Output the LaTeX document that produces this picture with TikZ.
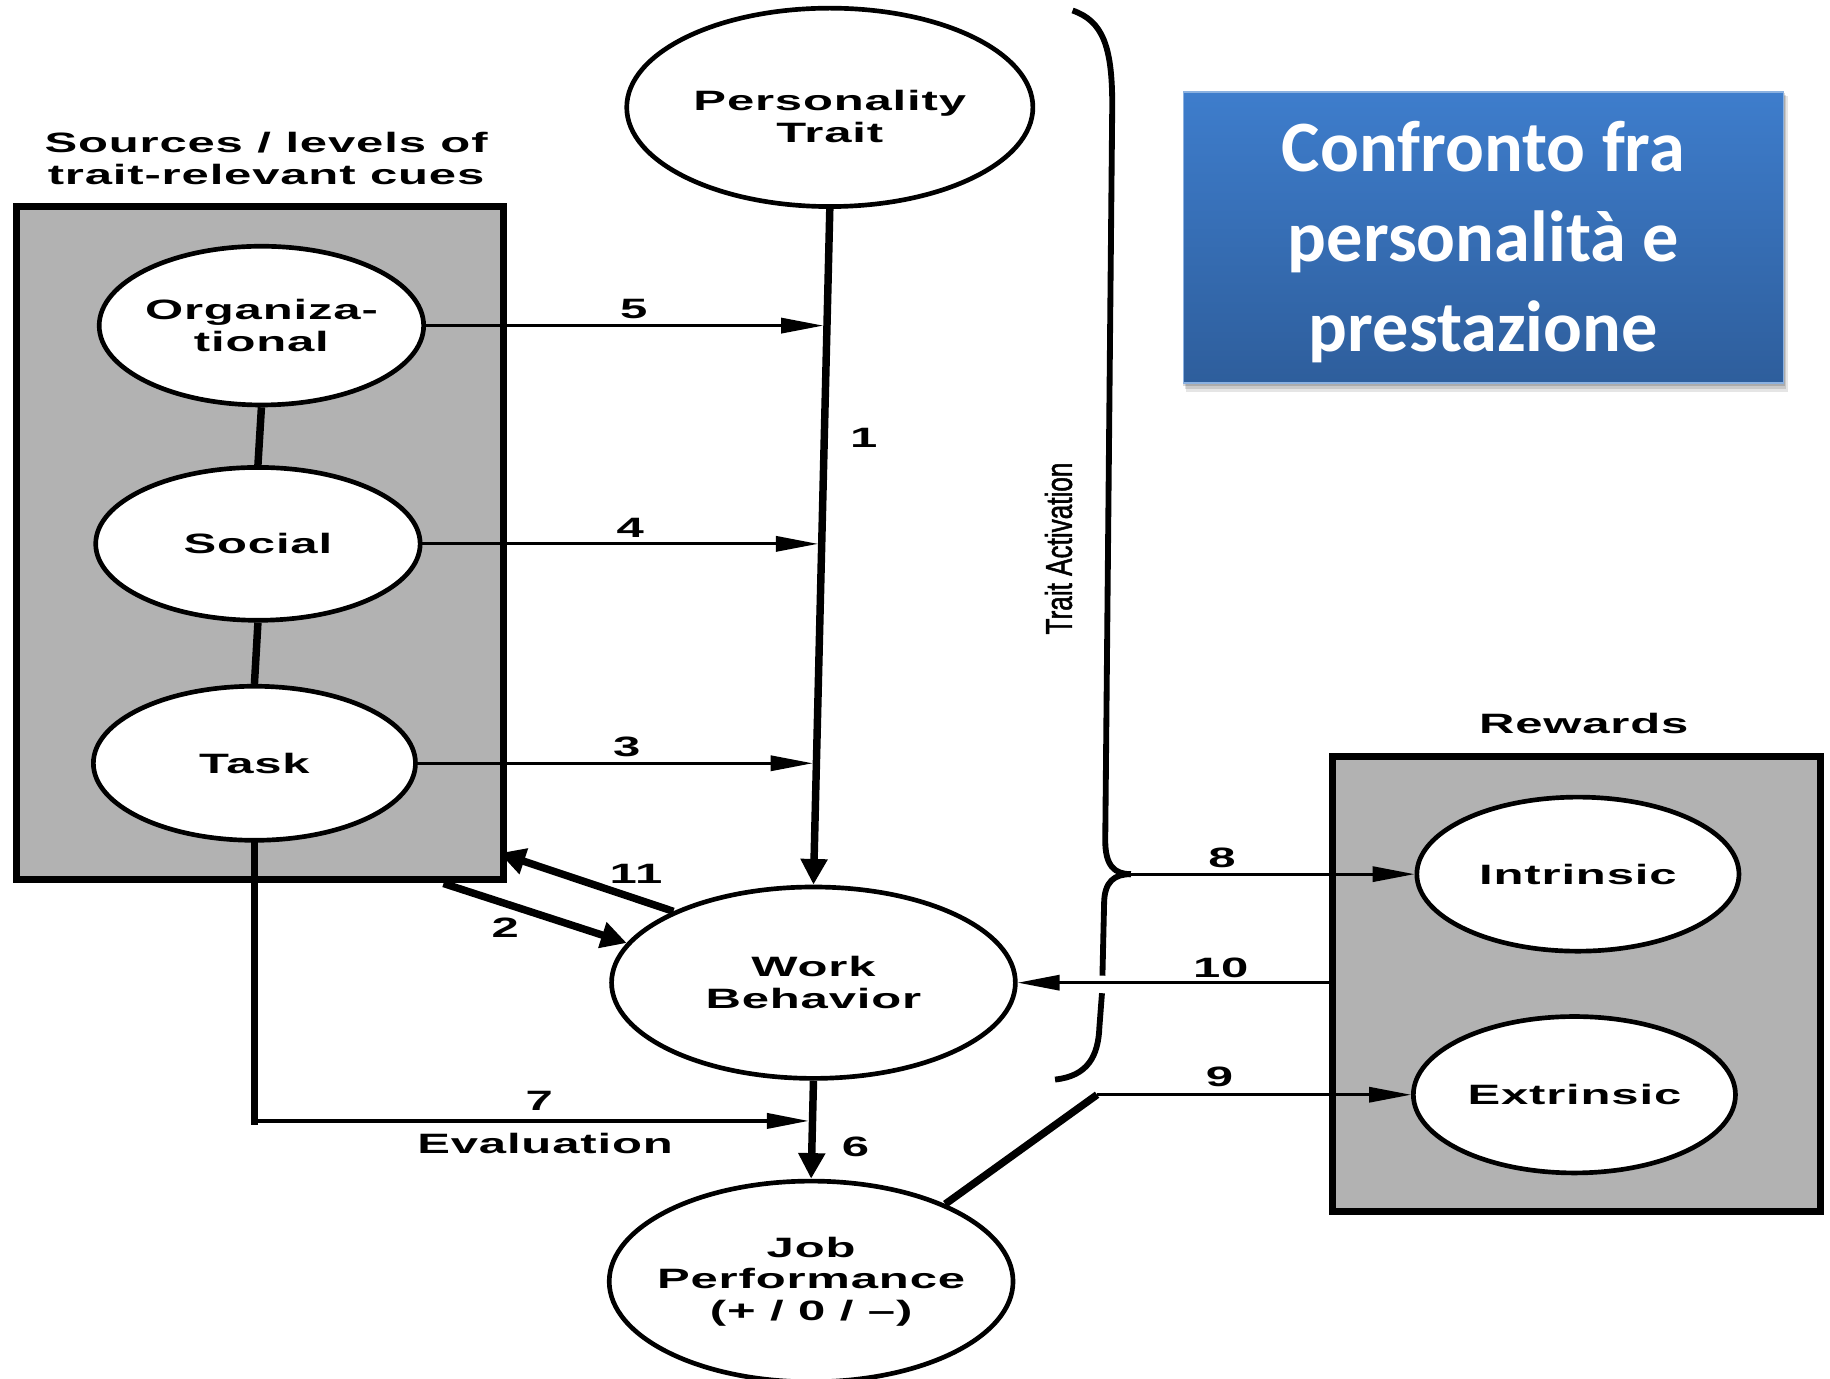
\documentclass[tikz,border=0pt]{standalone}
\usepackage{fontspec}
\usetikzlibrary{arrows.meta,calc,shapes.geometric}
\newfontfamily\diagfont[FakeStretch=1.75,LetterSpace=3]{Liberation Sans Bold}
\newfontfamily\narrowfont[FakeStretch=0.7,FakeBold=1.2]{Liberation Sans}
\newfontfamily\titlefont{Carlito Bold}
\definecolor{boxgray}{RGB}{178,178,178}
\definecolor{titletop}{RGB}{62,125,204}
\definecolor{titlebot}{RGB}{46,94,156}
\begin{document}
\begin{tikzpicture}[x=0.5pt,y=-0.5pt,
  every node/.style={font=\diagfont\fontsize{12}{13.5}\selectfont},
  oval/.style={ellipse,draw,fill=white,line width=2pt,inner sep=0pt},
  panel/.style={rectangle,draw,fill=boxgray,line width=3pt,inner sep=0pt},
  thinarrow/.style={line width=1.2pt,-{Triangle[length=18pt,width=6.5pt]}},
  thickarrow/.style={line width=3.2pt,-{Triangle[length=11pt,width=11pt]}},
  thickline/.style={line width=3.2pt},
  bracestyle/.style={line width=2.5pt},
  lbl/.style={inner sep=0pt,align=center},
  titletext/.style={anchor=base,inner sep=0pt,text=white,font=\titlefont\fontsize{31}{38.5}\selectfont},
]
\useasboundingbox (0,0) rectangle (1568,1181);

% panels
\node[panel,minimum width=208.5pt,minimum height=288.5pt] (LB) at (222.5,465.5) {};
\node[panel,minimum width=209pt,minimum height=195pt] (RB) at (1351,843) {};
\node[lbl] (srcT) at (228,136) {Sources / levels of\\trait-relevant cues};
\node[lbl] (rewT) at (1357,620) {Rewards};

% ovals
\node[oval,minimum width=139pt,minimum height=68pt] (O) at (224,279) {};
\node[lbl] (Ot) at (O) {Organiza-\\tional};
\node[oval,minimum width=139pt,minimum height=65.5pt] (S) at (221,466) {};
\node[lbl] (St) at (S) {Social};
\node[oval,minimum width=138pt,minimum height=66pt] (T) at (218,654) {};
\node[lbl] (Tt) at (T) {Task};
\node[oval,minimum width=174pt,minimum height=85pt] (PT) at (711,92) {};
\node[lbl] (PTt) at (711,100) {Personality\\Trait};
\node[oval,minimum width=173pt,minimum height=82pt] (WB) at (697,842) {};
\node[lbl] (WBt) at (WB) {Work\\Behavior};
\node[oval,minimum width=173pt,minimum height=86pt] (JP) at (695,1098) {};
\node[lbl] (JPt) at (JP) {Job\\Performance\\(+ / 0 / –)};
\node[oval,minimum width=138pt,minimum height=66pt] (I) at (1352,749) {};
\node[lbl] (It) at (I) {Intrinsic};
\node[oval,minimum width=138pt,minimum height=67pt] (E) at (1349,938) {};
\node[lbl] (Et) at (E) {Extrinsic};

% links inside left panel
\draw[thickline] (O.south) -- (S.north);
\draw[thickline] (S.south) -- (T.north);

% main vertical
\draw[thickarrow] (PT.south) -- (WB.north);
\coordinate (j5) at ($(PT.south)!0.175!(WB.north)$);
\coordinate (j4) at ($(PT.south)!0.495!(WB.north)$);
\coordinate (j3) at ($(PT.south)!0.820!(WB.north)$);
\draw[thinarrow,shorten >=1.6pt] (O.east) -- (O.east -| j5);
\draw[thinarrow,shorten >=1.6pt] (S.east) -- (S.east -| j4);
\draw[thinarrow,shorten >=1.6pt] (T.east) -- (T.east -| j3);

% 11 and 2
\coordinate (c11) at (428,731);
\draw[thickarrow] (WB.153) -- (c11);
\coordinate (s2) at (380,757);
\draw[thickarrow] (s2) -- (WB.168);

% 7 evaluation
\coordinate (c7) at ($(WB.south)!0.41!(JP.north)$);
\draw[thickline,line cap=rect] (T.south) -- (T.south |- c7);
\draw[thinarrow,line width=1.5pt,shorten >=1.6pt] (T.south |- c7) -- (c7);

% 6
\draw[thickarrow] (WB.south) -- (JP.north);

% brace
\draw[bracestyle] (919,9) .. controls (945,18) and (953,40) .. (953,90) -- (947,720)
  .. controls (947,742) and (955,749) .. (969,749) coordinate (tip);
\draw[bracestyle] (tip) .. controls (955,749) and (946,755) .. (946,775) -- (944.6,836);
\draw[bracestyle] (944.2,851) -- (942,880) .. controls (941,905) and (932,922) .. (904,925);

% 8, 10, 9
\draw[thinarrow] (tip) -- (I.west);
\draw[thinarrow] (RB.west |- WB.east) -- (WB.east);
\coordinate (k9) at (940,938);
\draw[thickline] (JP.30) -- (k9);
\draw[thinarrow] (k9) -- (E.west);

% number labels
\node[lbl] (n5) at (543,265) {5};
\node[lbl] (n4) at (540,452) {4};
\node[lbl] (n3) at (537,640) {3};
\node[lbl] (n1) at (740,375) {1};
\node[lbl] (n11) at (545,749) {11};
\node[lbl] (n2) at (433,795) {2};
\node[lbl] (n7) at (462,943) {7};
\node[lbl] (ev) at (467,980) {Evaluation};
\node[lbl] (n6) at (733,983) {6};
\node[lbl] (n8) at (1047,735) {8};
\node[lbl] (n10) at (1046,829) {10};
\node[lbl] (n9) at (1045,923) {9};

\node[lbl,rotate=90,font=\narrowfont\fontsize{16}{18}\selectfont] (TA) at (907,470) {Trait Activation};

% title box
\fill[black,opacity=0.10] (1016,82) rectangle (1532,336);
\fill[black,opacity=0.12] (1015,81) rectangle (1530,333);
\fill[black,opacity=0.15] (1014,80) rectangle (1529,331);
\shade[top color=titletop,bottom color=titlebot] (1014,79) rectangle (1528,328);
\draw[titletop!60!white,line width=0.6pt] (1014,79) rectangle (1528,328);
\node[titletext] (t1) at (1271,147) {Confronto fra};
\node[titletext] (t2) at (1271,224) {personalità e};
\node[titletext] (t3) at (1271,301) {prestazione};
\end{tikzpicture}
\end{document}
